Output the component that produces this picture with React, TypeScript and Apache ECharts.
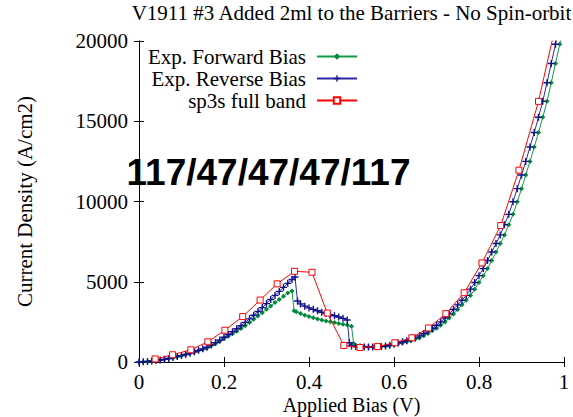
import React, { useEffect, useRef } from "react";
import * as echarts from "echarts";

const chartTitle = "V1911 #3 Added 2ml to the Barriers - No Spin-orbit";
const annotation = "117/47/47/47/117";
const xName = "Applied Bias (V)";
const yName = "Current Density (A/cm2)";
const seriesNames = ["Exp. Forward Bias", "Exp. Reverse Bias", "sp3s full band"];

const forwardBias = [
  0.0, 0.01, 0.02, 0.03, 0.04, 0.05, 0.06, 0.07, 0.08, 0.09, 0.1, 0.11, 0.12, 0.13, 0.14, 0.15, 0.16, 0.17, 0.18, 0.19,
  0.2, 0.21, 0.22, 0.23, 0.24, 0.25, 0.26, 0.27, 0.28, 0.29, 0.3, 0.31, 0.32, 0.33, 0.34, 0.35, 0.36, 0.365, 0.37, 0.38,
  0.39, 0.4, 0.41, 0.42, 0.43, 0.44, 0.45, 0.46, 0.47, 0.48, 0.49, 0.5, 0.505, 0.51, 0.52, 0.53, 0.54, 0.55, 0.56, 0.57,
  0.58, 0.59, 0.6, 0.61, 0.62, 0.63, 0.64, 0.65, 0.66, 0.67, 0.68, 0.69, 0.7, 0.71, 0.72, 0.73, 0.74, 0.75, 0.76, 0.77,
  0.78, 0.79, 0.8, 0.81, 0.82, 0.83, 0.84, 0.85, 0.86, 0.87, 0.88, 0.89, 0.9, 0.91, 0.92, 0.93, 0.94, 0.95, 0.96, 0.97,
  0.98, 0.99, 1.0,
];
const forwardCurrent = [
  0, 15, 35, 60, 90, 125, 165, 215, 270, 330, 395, 460, 530, 610, 695, 785, 880, 1010, 1150, 1300,
  1450, 1600, 1760, 1920, 2080, 2260, 2460, 2660, 2870, 3070, 3280, 3490, 3700, 3900, 4100, 4300, 4430, 3200, 3130, 3020,
  2920, 2840, 2760, 2680, 2620, 2560, 2510, 2460, 2400, 2350, 2300, 2230, 1150, 1000, 970, 950, 940, 940, 945, 960,
  985, 1020, 1070, 1130, 1190, 1260, 1330, 1410, 1500, 1630, 1780, 1940, 2100, 2290, 2500, 2740, 2990, 3270, 3560, 3850,
  4150, 4540, 4950, 5380, 5820, 6320, 6850, 7380, 7920, 8550, 9200, 9980, 10800, 11650, 12500, 13400, 14300, 15250, 16240, 17400,
  18600, 19800, 21100,
];

const reverseBias = [
  0.0, 0.01, 0.02, 0.03, 0.04, 0.05, 0.06, 0.07, 0.08, 0.09, 0.1, 0.11, 0.12, 0.13, 0.14, 0.15, 0.16, 0.17, 0.18, 0.19,
  0.2, 0.21, 0.22, 0.23, 0.24, 0.25, 0.26, 0.27, 0.28, 0.29, 0.3, 0.31, 0.32, 0.33, 0.34, 0.35, 0.36, 0.367, 0.373, 0.38,
  0.39, 0.4, 0.41, 0.42, 0.43, 0.44, 0.45, 0.46, 0.47, 0.48, 0.49, 0.495, 0.5, 0.51, 0.52, 0.53, 0.54, 0.55, 0.56, 0.57,
  0.58, 0.59, 0.6, 0.61, 0.62, 0.63, 0.64, 0.65, 0.66, 0.67, 0.68, 0.69, 0.7, 0.71, 0.72, 0.73, 0.74, 0.75, 0.76, 0.77,
  0.78, 0.79, 0.8, 0.81, 0.82, 0.83, 0.84, 0.85, 0.86, 0.87, 0.88, 0.89, 0.9, 0.91, 0.92, 0.93, 0.94, 0.95, 0.96, 0.97,
  0.98, 0.99,
];
const reverseCurrent = [
  0, 15, 35, 60, 90, 125, 165, 215, 275, 335, 400, 470, 550, 635, 725, 820, 920, 1060, 1210, 1370,
  1540, 1710, 1890, 2070, 2260, 2470, 2690, 2910, 3150, 3390, 3640, 3890, 4150, 4400, 4650, 4900, 5140, 5300, 3800, 3620,
  3480, 3370, 3280, 3190, 3100, 3020, 2950, 2880, 2800, 2720, 2620, 1200, 1000, 960, 940, 930, 930, 940, 950, 970,
  1000, 1040, 1100, 1190, 1260, 1330, 1410, 1500, 1630, 1780, 1940, 2100, 2290, 2500, 2740, 2990, 3270, 3560, 3850, 4150,
  4540, 4950, 5380, 5820, 6320, 6850, 7380, 7920, 8550, 9200, 9980, 10800, 11650, 12500, 13400, 14300, 15250, 16240, 17400, 18600,
  19800, 21100,
];

const sp3sBias = [
  0.038, 0.079, 0.122, 0.162, 0.202, 0.244, 0.285, 0.325, 0.366, 0.407, 0.443, 0.482, 0.52, 0.561, 0.602, 0.642, 0.681,
  0.722, 0.765, 0.807, 0.851, 0.894, 0.94, 0.983,
];
const sp3sCurrent = [
  190, 450, 760, 1260, 1980, 2830, 3860, 4870, 5650, 5590, 3050, 1030, 900, 960, 1200, 1510, 2120,
  3015, 4316, 6173, 8501, 11950, 16240, 21300,
];

const xTicks = { min: 0, max: 1, interval: 0.2 };
const yTicks = { min: 0, max: 20000, interval: 5000 };

const zip = (xs: number[], ys: number[]) => xs.map((x, i) => [x, ys[i]]);

const SERIF = "Liberation Serif";
const GREEN = "#129a48";
const BLUE = "#2a2aa6";
const RED = "#ff0000";
const PLUS = "path://M4,0 H6 V4 H10 V6 H6 V10 H4 V6 H0 V4 H4 Z";

export default function App() {
  const ref = useRef<HTMLDivElement>(null);

  useEffect(() => {
    if (!ref.current) return;
    const chart = echarts.init(ref.current, undefined, { renderer: "svg" });
    const axisCommon = {
      axisLine: { show: true, lineStyle: { color: "#000", width: 1 } },
      axisTick: { show: true, inside: true, length: 5, lineStyle: { color: "#000" } },
      splitLine: { show: false },
    };
    chart.setOption({
      animation: false,
      backgroundColor: "#fff",
      grid: { left: 139, right: 9, top: 41, bottom: 55, containLabel: false, outerBoundsMode: "none" },
      graphic: [
        {
          type: "text",
          x: 351.5,
          y: 13,
          style: {
            text: chartTitle,
            fontSize: 21,
            fontFamily: SERIF,
            fill: "#000",
            align: "center",
            verticalAlign: "middle",
            textAlign: "center",
            textVerticalAlign: "middle",
          },
        },
        {
          type: "text",
          x: 268.5,
          y: 172,
          z: 100,
          style: {
            text: annotation,
            fontSize: 37,
            fontWeight: "bold",
            fontFamily: "Liberation Sans",
            fill: "#000",
            align: "center",
            verticalAlign: "middle",
            textAlign: "center",
            textVerticalAlign: "middle",
          },
        },
      ],
      legend: {
        orient: "vertical",
        align: "right",
        right: 215,
        top: 46,
        padding: 0,
        itemWidth: 40,
        itemHeight: 8,
        itemGap: 1,
        selectedMode: false,
        data: seriesNames,
        textStyle: {
          fontFamily: SERIF,
          fontSize: 21,
          color: "#000",
          lineHeight: 20,
          padding: [0, 6, 0, 0],
        },
      },
      xAxis: [
        {
          type: "value",
          ...xTicks,
          position: "bottom",
          ...axisCommon,
          name: xName,
          nameLocation: "middle",
          nameGap: 33,
          nameMoveOverlap: false,
          nameTextStyle: { fontFamily: SERIF, fontSize: 20, color: "#000" },
          axisLabel: { margin: 9, fontFamily: SERIF, fontSize: 21, color: "#000" },
        },
        {
          type: "value",
          ...xTicks,
          position: "top",
          ...axisCommon,
          axisLabel: { show: false },
        },
      ],
      yAxis: [
        {
          type: "value",
          ...yTicks,
          position: "left",
          ...axisCommon,
          name: yName,
          nameLocation: "middle",
          nameGap: 104,
          nameMoveOverlap: false,
          nameTextStyle: { fontFamily: SERIF, fontSize: 21, color: "#000" },
          axisLabel: {
            margin: 11,
            fontFamily: SERIF,
            fontSize: 21,
            color: "#000",
            formatter: (v: number) => String(v),
          },
        },
        {
          type: "value",
          ...yTicks,
          position: "right",
          ...axisCommon,
          axisLabel: { show: false },
        },
      ],
      series: [
        {
          name: seriesNames[0],
          type: "line",
          data: zip(forwardBias, forwardCurrent),
          symbol: "diamond",
          symbolSize: 5,
          showSymbol: true,
          lineStyle: { color: GREEN, width: 1 },
          itemStyle: { color: "#008a3a" },
          z: 3,
        },
        {
          name: seriesNames[1],
          type: "line",
          data: zip(reverseBias, reverseCurrent),
          symbol: PLUS,
          symbolSize: 7,
          showSymbol: true,
          lineStyle: { color: BLUE, width: 1 },
          itemStyle: { color: "#10108a" },
          z: 4,
        },
        {
          name: seriesNames[2],
          type: "line",
          data: zip(sp3sBias, sp3sCurrent),
          symbol: "rect",
          symbolSize: 6,
          showSymbol: true,
          lineStyle: { color: RED, width: 1 },
          itemStyle: { color: "#fff", borderColor: RED, borderWidth: 1 },
          z: 5,
        },
      ],
    });
    return () => chart.dispose();
  }, []);

  return <div ref={ref} style={{ width: 573, height: 417, position: "absolute", left: 0, top: 0 }} />;
}
